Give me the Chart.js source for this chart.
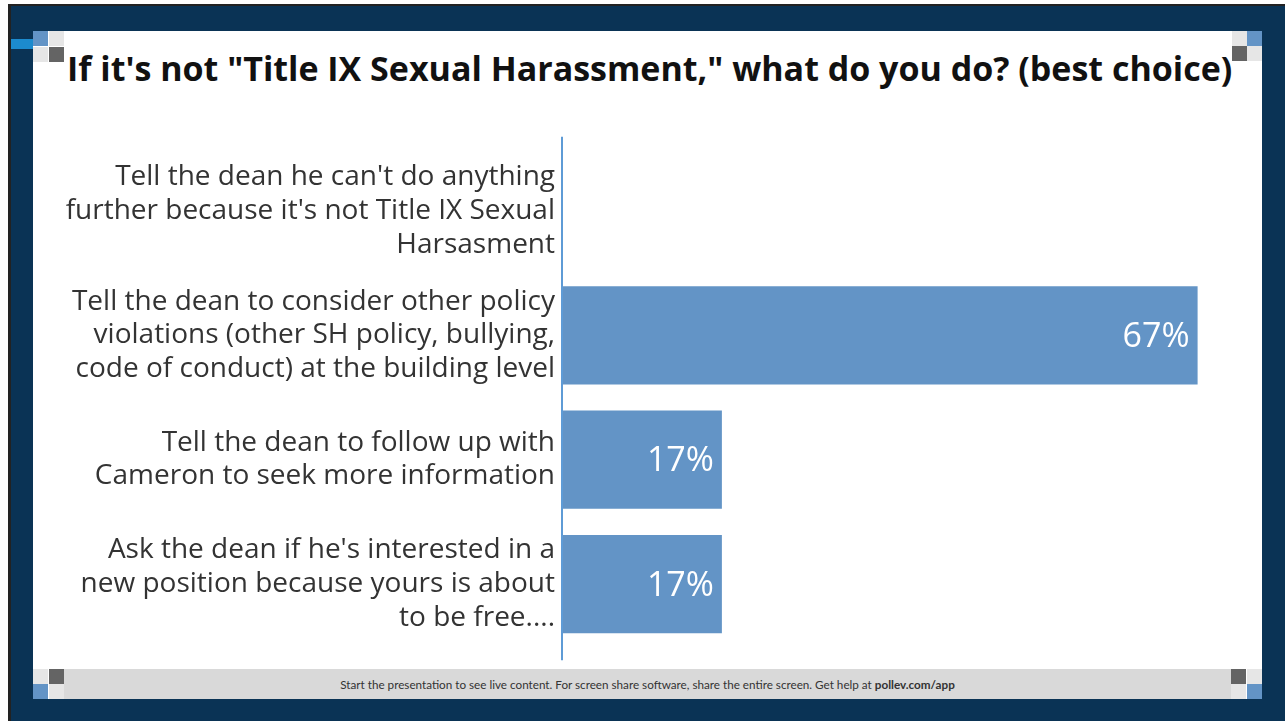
<!DOCTYPE html>
<html>
<head>
<meta charset="utf-8">
<script src="https://cdn.jsdelivr.net/npm/chart.js@4.4.1/dist/chart.umd.min.js"></script>
<style>
  html, body { margin: 0; padding: 0; background: #ffffff; width: 1285px; height: 721px; overflow: hidden; }
  #frame { position: absolute; left: 8px; top: 4px; width: 1277px; height: 717px; background: #0a3355;
           border-left: 3px solid #222; border-top: 2px solid #222; box-sizing: border-box; }
  #slide { position: absolute; left: 33px; top: 31px; width: 1229px; height: 668px; background: #ffffff; }
  .sq { position: absolute; width: 15px; height: 15px; }
  #accent { position: absolute; left: 11px; top: 39px; width: 22px; height: 10px; background: #1c8bce; }
  #title { position: absolute; left: 67px; top: 48px; font-family: "Open Sans", sans-serif; font-weight: 700;
           font-size: 34px; color: #111; white-space: nowrap; line-height: 40px; }
  #footer { position: absolute; left: 64px; top: 669px; width: 1167px; height: 30px; background: #d9d9d9;
            font-family: Lato, sans-serif; font-size: 11.7px; color: #333; text-align: center; line-height: 30px; }
  #wrap { position: absolute; left: 35px; top: 130px; width: 1220px; height: 540px; }
</style>
</head>
<body>
<div id="frame"></div>
<div id="slide"></div>
<div id="accent"></div>
<div class="sq" style="left:33px;top:31px;background:#6394c6"></div>
<div class="sq" style="left:49px;top:31px;background:#e6e6e6"></div>
<div class="sq" style="left:33px;top:47px;background:#e6e6e6"></div>
<div class="sq" style="left:49px;top:47px;background:#646464"></div>
<div class="sq" style="left:1232px;top:31px;background:#e6e6e6"></div>
<div class="sq" style="left:1247px;top:31px;background:#6394c6"></div>
<div class="sq" style="left:1232px;top:46px;background:#646464"></div>
<div class="sq" style="left:1247px;top:46px;background:#e6e6e6"></div>
<div id="footer">Start the presentation to see live content. For screen share software, share the entire screen. Get help at <b>pollev.com/app</b></div>
<div class="sq" style="left:33px;top:669px;background:#e6e6e6"></div>
<div class="sq" style="left:49px;top:669px;background:#646464"></div>
<div class="sq" style="left:33px;top:684px;background:#6394c6"></div>
<div class="sq" style="left:49px;top:684px;background:#e6e6e6"></div>
<div class="sq" style="left:1231px;top:669px;background:#646464"></div>
<div class="sq" style="left:1247px;top:669px;background:#e6e6e6"></div>
<div class="sq" style="left:1231px;top:684px;background:#e6e6e6"></div>
<div class="sq" style="left:1247px;top:684px;background:#6394c6"></div>
<div id="title">If it's not "Title IX Sexual Harassment," what do you do? (best choice)</div>
<div id="wrap"><canvas id="chart"></canvas></div>
<script>
// Opciones de respuesta (eje Y)
const choices = [
  ["Tell the dean he can't do anything", "further because it's not Title IX Sexual", "Harsasment"],
  ["Tell the dean to consider other policy", "violations (other SH policy, bullying,", "code of conduct) at the building level"],
  ["Tell the dean to follow up with", "Cameron to seek more information"],
  ["Ask the dean if he's interested in a", "new position because yours is about", "to be free...."],
];
// Porcentaje de votos
const percents = [0, 66.7, 16.7, 16.7];

const barBlue = "#6394c6";

// Etiquetas blancas dentro de las barras
const valueLabels = {
  id: "valueLabels",
  afterDatasetsDraw(chart) {
    const ctx = chart.ctx;
    const meta = chart.getDatasetMeta(0);
    ctx.save();
    ctx.fillStyle = "#ffffff";
    ctx.font = "400 34px 'Open Sans', sans-serif";
    ctx.textAlign = "right";
    ctx.textBaseline = "middle";
    meta.data.forEach((bar, i) => {
      if (!percents[i]) return;
      ctx.fillText(Math.round(percents[i]) + "%", bar.x - 8, bar.y + 2);
    });
    ctx.restore();
  },
};

// Linea del eje vertical, un poco mas larga que el area
const axisLine = {
  id: "axisLine",
  afterDraw(chart) {
    const ctx = chart.ctx;
    const a = chart.chartArea;
    ctx.save();
    ctx.strokeStyle = "#5e9bd6";
    ctx.lineWidth = 2;
    ctx.beginPath();
    ctx.moveTo(a.left - 1, a.top - 12);
    ctx.lineTo(a.left - 1, a.bottom + 14);
    ctx.stroke();
    ctx.restore();
  },
};

new Chart(document.getElementById("chart"), {
  type: "bar",
  data: {
    labels: choices,
    datasets: [
      {
        data: percents,
        backgroundColor: barBlue,
        borderWidth: 0,
        barPercentage: 0.79,
        categoryPercentage: 1,
      },
    ],
  },
  options: {
    indexAxis: "y",
    responsive: true,
    maintainAspectRatio: false,
    animation: false,
    layout: { padding: { top: 18.75, bottom: 23.75, right: 26, left: 0 } },
    plugins: { legend: { display: false }, tooltip: { enabled: false } },
    scales: {
      x: { display: false, min: 0, max: 70 },
      y: {
        grid: { display: false, drawTicks: false },
        border: { display: false },
        ticks: {
          color: "#333333",
          padding: 8,
          font: { family: "'Open Sans', sans-serif", size: 28, lineHeight: 1.2 },
        },
        afterFit(scale) {
          scale.width = 528;
          scale.paddingTop = 0;
          scale.paddingBottom = 0;
        },
      },
    },
  },
  plugins: [valueLabels, axisLine],
});
</script>
</body>
</html>
